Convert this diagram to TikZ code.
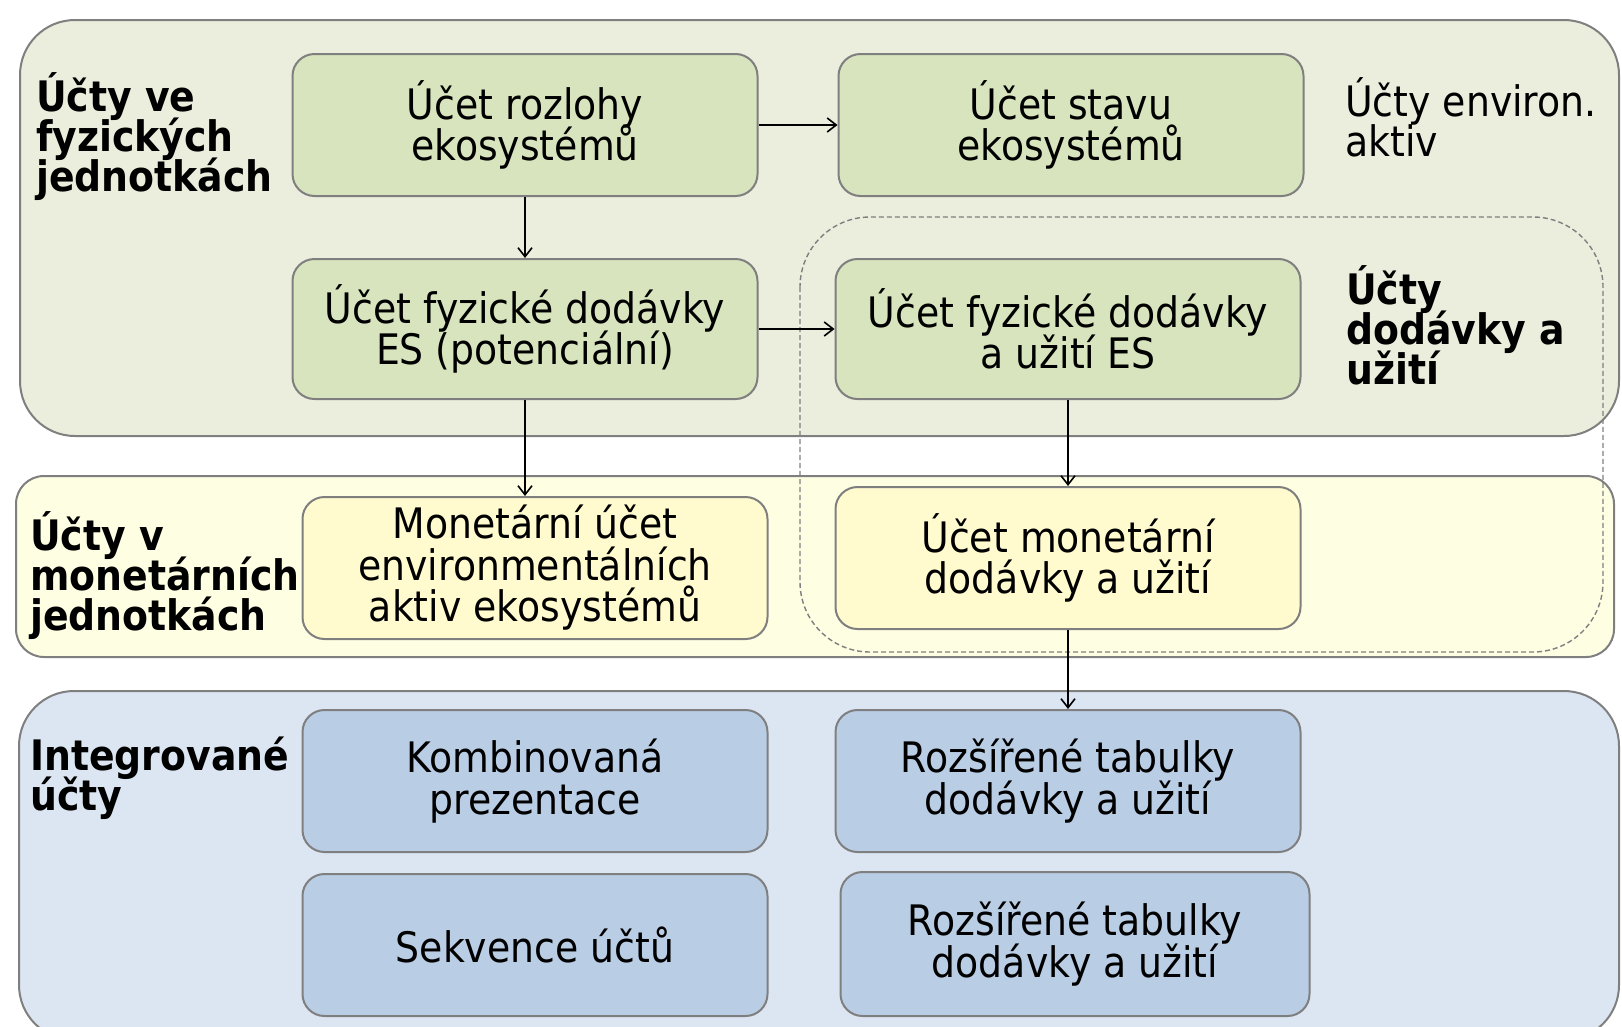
\documentclass[tikz,border=0pt]{standalone}
\usepackage{fontspec}
\setmainfont{DejaVu Sans}[FakeStretch=0.90]
\usetikzlibrary{arrows.meta}
\definecolor{grnpanel}{HTML}{EBEEDD}
\definecolor{grnbox}{HTML}{D7E4BD}
\definecolor{ylwpanel}{HTML}{FEFEE3}
\definecolor{ylwbox}{HTML}{FFFBCF}
\definecolor{bluepanel}{HTML}{DCE6F2}
\definecolor{bluebox}{HTML}{B9CDE5}
\definecolor{edge}{HTML}{7F7F7F}
% fixed line pitch regardless of accents
\newcommand{\tightlines}{\lineskiplimit=-100pt\lineskip=0pt}
\tikzset{
  panel/.style={draw=edge, line width=2pt},
  acct/.style={draw=edge, line width=2pt, rounded corners=22pt,
    minimum width=465pt, minimum height=142pt, align=center,
    font=\fontsize{42}{41.5}\selectfont\tightlines, inner sep=0pt},
  % labels are anchored at the baseline of their last line
  grp/.style={anchor=base west, align=left, inner sep=0pt,
    font=\fontsize{42}{40}\selectfont\bfseries\tightlines},
  note/.style={anchor=base west, align=left, inner sep=0pt,
    font=\fontsize{42}{40}\selectfont\tightlines},
  flow/.style={line width=1.6pt, -{Straight Barb[length=9pt,width=14pt,line width=1.6pt]}}
}
\begin{document}
\begin{tikzpicture}[x=1pt,y=-1pt]
\useasboundingbox (0,0) rectangle (1622,1026);
% background bands
\draw[panel, fill=grnpanel, rounded corners=55pt] (20,20) rectangle (1619,436);
\draw[panel, fill=ylwpanel, rounded corners=28pt] (16,476) rectangle (1614,657);
\draw[panel, fill=bluepanel, rounded corners=55pt] (19,691) rectangle (1619,1040);
% supply-and-use grouping
\draw[edge, line width=1.4pt, dash pattern=on 5pt off 3pt, rounded corners=70pt] (800,217) rectangle (1603,652);
% accounts
\node[acct, fill=grnbox] (rozloha) at (525,125) {Účet rozlohy\\ekosystémů};
\node[acct, fill=grnbox] (stav) at (1071,125) {Účet stavu\\ekosystémů};
\node[acct, fill=grnbox, minimum height=140pt] (fyzpot) at (525,329) {Účet fyzické dodávky\\ES (potenciální)};
\node[acct, fill=grnbox, minimum height=140pt] (fyzuz) at (1068,329) {Účet fyzické dodávky\\a užití ES};
\node[acct, fill=ylwbox] (monakt) at (535,568) {Monetární účet\\environmentálních\\aktiv ekosystémů};
\node[acct, fill=ylwbox] (mondod) at (1068,558) {Účet monetární\\dodávky a užití};
\node[acct, fill=bluebox] (komb) at (535,781) {Kombinovaná\\prezentace};
\node[acct, fill=bluebox] (rozs1) at (1068,781) {Rozšířené tabulky\\dodávky a užití};
\node[acct, fill=bluebox] (sekv) at (535,945) {Sekvence účtů};
\node[acct, fill=bluebox, minimum width=469pt, minimum height=144pt] (rozs2) at (1075,944) {Rozšířené tabulky\\dodávky a užití};
% group labels
\node[grp] (gfyz) at (36,191) {Účty ve\\fyzických\\jednotkách};
\node[note] (genv) at (1345,156) {Účty environ.\\aktiv};
\node[grp] (gdod) at (1346,384) {Účty\\dodávky a\\užití};
\node[grp] (gmon) at (30,630) {Účty v\\monetárních\\jednotkách};
\node[grp] (gint) at (30,810) {Integrované\\účty};
% flows
\draw[flow] (rozloha.east) -- (stav.west);
\draw[flow] (rozloha.south) -- (fyzpot.north);
\draw[flow] (fyzpot.east) -- (fyzuz.west);
\draw[flow] (fyzpot.south) -- (fyzpot.south |- monakt.north);
\draw[flow] (fyzuz.south) -- (mondod.north);
\draw[flow] (mondod.south) -- (rozs1.north);
\end{tikzpicture}
\end{document}
